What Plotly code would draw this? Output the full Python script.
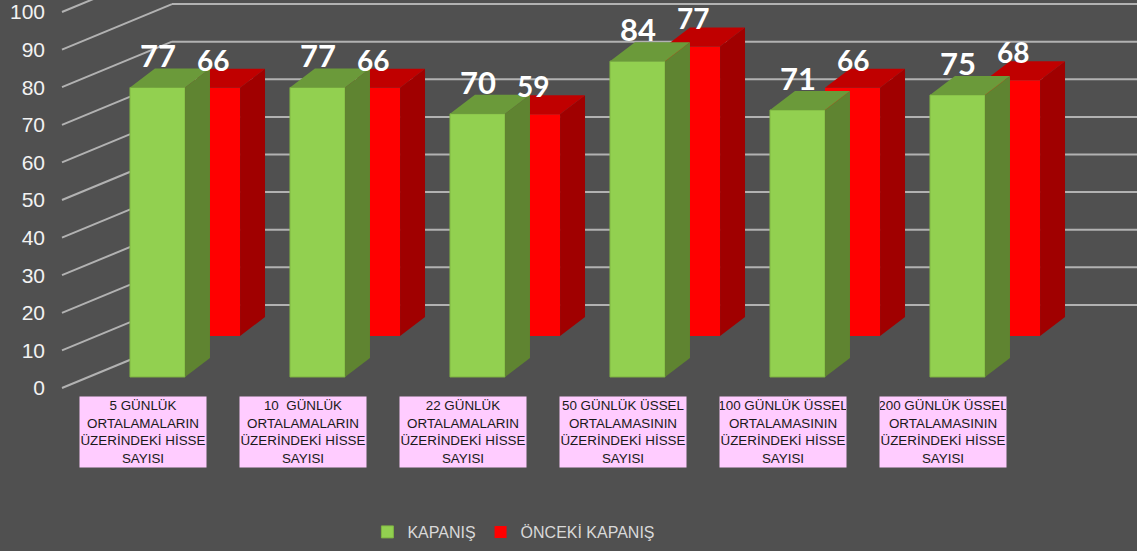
import numpy as np
import plotly.graph_objects as go

# ---------------- data ----------------
categories = [
    "5 GÜNLÜK<br>ORTALAMALARIN<br>ÜZERİNDEKİ HİSSE<br>SAYISI",
    "10\u00a0 GÜNLÜK<br>ORTALAMALARIN<br>ÜZERİNDEKİ HİSSE<br>SAYISI",
    "22 GÜNLÜK<br>ORTALAMALARIN<br>ÜZERİNDEKİ HİSSE<br>SAYISI",
    "50 GÜNLÜK ÜSSEL<br>ORTALAMASININ<br>ÜZERİNDEKİ HİSSE<br>SAYISI",
    "100 GÜNLÜK ÜSSEL<br>ORTALAMASININ<br>ÜZERİNDEKİ HİSSE<br>SAYISI",
    "200 GÜNLÜK ÜSSEL<br>ORTALAMASININ<br>ÜZERİNDEKİ HİSSE<br>SAYISI",
]
kapanis = [77, 77, 70, 84, 71, 75]
onceki_kapanis = [66, 66, 59, 77, 66, 68]
series_names = ["KAPANIŞ", "ÖNCEKİ KAPANIŞ"]
yticks = list(range(0, 101, 10))

# ---------------- geometry / style ----------------
W = 0.344          # bar width (category units)
DDX = 0.156        # 3D depth offset x
DDY = 5.05         # 3D depth offset y (value units)
GREEN_BASE = 2.93  # front row floor level
RED_BASE = GREEN_BASE + 10.9
RED_SHIFT = W
LABEL_DX = -0.09
WALL_X0, WALL_X1 = -0.597, 0.0906
WALL_DY = 12.1
X_RANGE = [-0.6719, 6.1219]
Y_RANGE = [-43.35, 103.19]

BG = "#505050"
GRID = "#B2B2B2"
G_FRONT, G_SIDE, G_TOP = "#92D050", "#5F8431", "#6B9A3A"
R_FRONT, R_SIDE, R_TOP = "#FF0000", "#A00000", "#C00000"

pos = np.arange(len(categories), dtype=float)


def faces(xc, vals, base):
    sx, sy, tx, ty = [], [], [], []
    for c, v in zip(xc, vals):
        xl, xr = c - W / 2, c + W / 2
        t = base + v
        sx += [xr, xr + DDX, xr + DDX, xr, xr, None]
        sy += [base, base + DDY, t + DDY, t, base, None]
        tx += [xl, xr, xr + DDX, xl + DDX, xl, None]
        ty += [t, t, t + DDY, t + DDY, t, None]
    return sx, sy, tx, ty


fig = go.Figure()

# front faces (bars)
fig.add_trace(go.Bar(x=pos + RED_SHIFT, y=onceki_kapanis, base=RED_BASE, width=W,
                     marker=dict(color=R_FRONT, line=dict(width=0)),
                     name=series_names[1], legendrank=2, hoverinfo="skip"))
fig.add_trace(go.Bar(x=pos, y=kapanis, base=GREEN_BASE, width=W,
                     marker=dict(color=G_FRONT, line=dict(width=1, color="#7FB443")),
                     name=series_names[0], legendrank=1, hoverinfo="skip"))

# 3D side / top faces
for xc, vals, base, cs, ct in [(pos + RED_SHIFT, onceki_kapanis, RED_BASE, R_SIDE, R_TOP),
                               (pos, kapanis, GREEN_BASE, G_SIDE, G_TOP)]:
    sx, sy, tx, ty = faces(xc, vals, base)
    fig.add_trace(go.Scatter(x=sx, y=sy, fill="toself", fillcolor=cs, mode="lines",
                             line=dict(width=0, color=cs), showlegend=False, hoverinfo="skip"))
    fig.add_trace(go.Scatter(x=tx, y=ty, fill="toself", fillcolor=ct, mode="lines",
                             line=dict(width=0, color=ct), showlegend=False, hoverinfo="skip"))

# wall gridlines
shapes = []
for v in yticks:
    shapes.append(dict(type="line", xref="x", yref="y", layer="below",
                       x0=WALL_X0, y0=v, x1=WALL_X1, y1=v + WALL_DY,
                       line=dict(color=GRID, width=2)))
    if v > 0:
        shapes.append(dict(type="line", xref="x", yref="y", layer="below",
                           x0=WALL_X1, y0=v + WALL_DY, x1=X_RANGE[1], y1=v + WALL_DY,
                           line=dict(color=GRID, width=2)))

annotations = []
# data labels
for c, v in zip(pos, kapanis):
    annotations.append(dict(x=c, y=GREEN_BASE + v + DDY, text=str(v), showarrow=False,
                            yanchor="bottom", yshift=-8,
                            font=dict(family="Lato", size=31, color="white", weight=700)))
for c, v in zip(pos + RED_SHIFT, onceki_kapanis):
    annotations.append(dict(x=c, y=RED_BASE + v + DDY, text=str(v), showarrow=False,
                            yanchor="bottom", yshift=-10,
                            font=dict(family="Lato", size=28, color="white", weight=700)))
# category label boxes
for c, lab in zip(pos, categories):
    annotations.append(dict(x=c + LABEL_DX, y=-11.7, text=lab, showarrow=False,
                            xanchor="center", yanchor="middle",
                            width=126, height=70, borderpad=0, bgcolor="#FFCCFF",
                            font=dict(family="Liberation Sans", size=13.4, color="#1A1A1A")))

fig.update_layout(
    width=1137, height=551,
    paper_bgcolor=BG, plot_bgcolor=BG,
    margin=dict(l=50, r=0, t=0, b=0, autoexpand=False),
    barmode="overlay",
    shapes=shapes, annotations=annotations,
    xaxis=dict(range=X_RANGE, visible=False, fixedrange=True),
    yaxis=dict(range=Y_RANGE, tickvals=yticks, showgrid=False, zeroline=False,
               ticks="", showline=False, ticklabelstandoff=4, fixedrange=True,
               tickfont=dict(family="Liberation Sans", size=21, color="#F2F2F2")),
    legend=dict(orientation="h", x=0.292, y=0.0345, xanchor="left", yanchor="middle",
                bgcolor="rgba(0,0,0,0)", itemwidth=30,
                font=dict(family="Liberation Sans", size=16, color="#D9D9D9")),
    showlegend=True,
)

fig.write_html("out.html", config={"displayModeBar": False},
               post_script="document.body.style.margin='0';document.body.style.overflow='hidden';")
